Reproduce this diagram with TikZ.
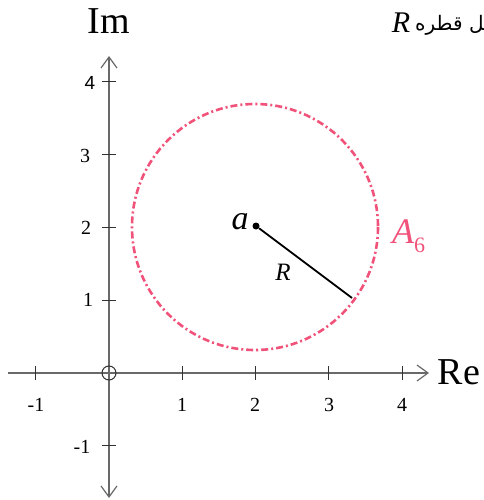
\documentclass[tikz,border=0pt]{standalone}
\usepackage{fontspec}
\setmainfont{Liberation Serif}
\newfontfamily\arabicfont[Script=Arabic]{DejaVu Sans}
\newfontfamily\labsans{Liberation Sans}
\TeXXeTstate=1
\usetikzlibrary{arrows.meta}
\definecolor{pinkc}{RGB}{240,82,122}
\definecolor{axisc}{RGB}{105,105,105}
\begin{document}
\begin{tikzpicture}[x=1pt,y=-1pt,
  >={Straight Barb[length=11pt,width=16pt,line width=1.2pt]},
  axis/.style={draw=axisc,line width=1.3pt},
  tickmark/.style={draw=black!80,line width=1pt},
  ticklab/.style={inner sep=0pt,font=\fontsize{20}{20}\selectfont},
  biglab/.style={inner sep=0pt,font=\fontsize{38}{38}\selectfont},
  circ/.style={draw=pinkc,line width=2.6pt,dash pattern=on 7pt off 3pt on 2pt off 3pt}]
\useasboundingbox (0,0) rectangle (483,500);
% axes
\coordinate (xs) at (8,373);
\coordinate (xe) at (429,373);
\coordinate (ys) at (109,498);
\coordinate (ye) at (109,56);
\draw[axis,->] (xs) -- (xe);
\draw[axis,<->] (ys) -- (ye);
% ticks
\foreach \i in {-1,1,2,3,4}{
  \draw[tickmark] ({109+73.3*\i},366) -- ++(0,14);
  \draw[tickmark] (102,{373-72.8*\i}) -- ++(14,0);
}
\node[draw=black!80,line width=1pt,circle,inner sep=0pt,minimum size=14pt] (O) at (109,373) {};
% x tick labels
\node[ticklab] (xm1) at (36,405) {-1};
\node[ticklab] (x1) at (182,405) {1};
\node[ticklab] (x2) at (255,405) {2};
\node[ticklab] (x3) at (329,405) {3};
\node[ticklab] (x4) at (402,405) {4};
% y tick labels
\node[ticklab,font=\labsans\fontsize{19}{19}\selectfont] (y4) at (90,83) {4};
\node[ticklab] (y3) at (85,156) {3};
\node[ticklab] (y2) at (86,228) {2};
\node[ticklab] (y1) at (88,300) {1};
\node[ticklab] (ym1) at (82,447) {-1};
% axis labels
\node[biglab] (Im) at (109,21) {Im};
\node[biglab] (Re) at (459,372) {Re};
% circle
\draw[circ] (255,227) circle[radius=123];
\node[circle,fill=black,inner sep=0pt,minimum size=7pt] (a) at (256,226) {};
\coordinate (edge) at (352,298);
\draw[line width=1.8pt] (a) -- (edge);
\node[inner sep=0pt,font=\fontsize{34}{34}\selectfont\itshape] (alab) at (240,222) {a};
\node[inner sep=0pt,font=\fontsize{25}{25}\selectfont\itshape] (Rlab) at (283,272) {R};
\node[inner sep=0pt,text=pinkc,font=\fontsize{36}{36}\selectfont,anchor=west] (A6) at (392,236) {\itshape A\raisebox{-9pt}{\fontsize{22}{22}\selectfont\upshape 6}};
% top right text
\node[inner sep=0pt,font=\fontsize{30}{30}\selectfont\itshape] (Rtop) at (401,23) {R};
\node[inner sep=0pt,anchor=west,font=\arabicfont\fontsize{20}{20}\selectfont] (ar) at (415,25) {\beginR شکل قطره\endR};
\end{tikzpicture}
\end{document}
